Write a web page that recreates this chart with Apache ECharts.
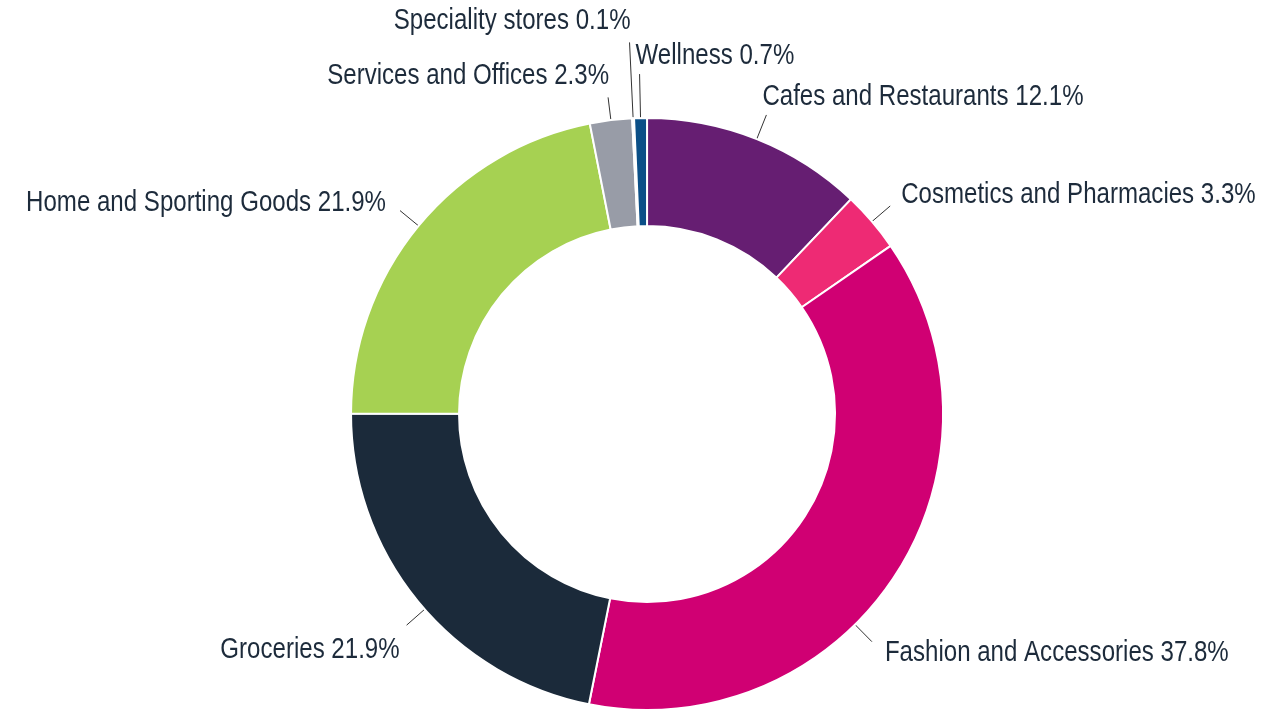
<!DOCTYPE html>
<html>
<head>
<meta charset="utf-8">
<script src="https://cdn.jsdelivr.net/npm/echarts@6/dist/echarts.min.js"></script>
<style>
html,body{margin:0;padding:0;background:#fff;}
#chart{width:1280px;height:720px;}
</style>
</head>
<body>
<div id="chart"></div>
<script>
const categories = ['Cafes and Restaurants','Cosmetics and Pharmacies','Fashion and Accessories','Groceries','Home and Sporting Goods','Services and Offices','Speciality stores','Wellness'];
const shares = [12.1, 3.3, 37.8, 21.9, 21.9, 2.3, 0.1, 0.7];
const colors = ['#661e72','#ee2a74','#d00073','#1b2a3a','#a6d152','#989ca7','#6f97c4','#0b4f87'];
// leader line lengths (px) and label anchor angle shifts (deg) – styling only
const leaderLengths = [26, 24, 24, 24, 24, 23, 76, 44];
const anchorShift = [0, 0, 12, -2, 0, 0, 0, 0];

const CENTER = ['50.55%', '57.5%'];
const R_IN = 188, R_OUT = 296;
const TEXT_SCALE_X = 0.83;

const chart = echarts.init(document.getElementById('chart'), null, {renderer: 'canvas'});

function pct(v, total) { return parseFloat(v) / 100 * total; }

const option = {
  backgroundColor: '#ffffff',
  animation: false,
  series: [{
    type: 'pie',
    center: CENTER,
    radius: [R_IN, R_OUT],
    startAngle: 90,
    clockwise: true,
    avoidLabelOverlap: false,
    itemStyle: {borderColor: '#ffffff', borderWidth: 2},
    label: {
      show: true,
      position: 'outside',
      color: '#1d2b3b',
      fontSize: 29,
      fontFamily: "'Liberation Sans', Arial, sans-serif",
      formatter: p => p.name + ' ' + p.value + '%'
    },
    labelLine: {show: true, length: 24, length2: 0, lineStyle: {color: '#333333', width: 1}},
    emphasis: {disabled: true},
    labelLayout: function (params) {
      const pts = params.labelLinePoints;
      if (!pts) return {};
      const i = params.dataIndex;
      const cx = pct(CENTER[0], chart.getWidth());
      const cy = pct(CENTER[1], chart.getHeight());
      let th = Math.atan2(pts[0][0] - cx, cy - pts[0][1]);
      th += anchorShift[i] * Math.PI / 180;
      const nx = Math.sin(th), ny = -Math.cos(th);
      const r2 = R_OUT + leaderLengths[i];
      const s = [cx + R_OUT * nx, cy + R_OUT * ny];
      const e = [cx + r2 * nx, cy + r2 * ny];
      const left = nx > -0.03;
      let out, dy;
      if (ny < -0.85) { out = left ? -4 : -1; dy = left ? -18 : -21; }
      else if (ny <= 0) { out = left ? 11 : 14; dy = left ? -11 : -8; }
      else { out = left ? 13 : 7; dy = left ? 11 : 25; }
      return {
        x: e[0] + (left ? out : -out),
        y: e[1] + dy,
        align: left ? 'left' : 'right',
        verticalAlign: 'middle',
        labelLinePoints: [s, e, e]
      };
    },
    data: categories.map((c, i) => ({name: c, value: shares[i], itemStyle: {color: colors[i]}, labelLine: {length: leaderLengths[i]}}))
  }]
};
chart.setOption(option);

// condense label text horizontally (narrow typeface look), anchored at each label position
function condenseLabels() {
  const zr = chart.getZr();
  zr.storage.getRoots().forEach(root => {
    const visit = el => {
      const t = el.getTextContent && el.getTextContent();
      if (t && t.scaleX !== TEXT_SCALE_X) {
        t.scaleX = TEXT_SCALE_X;
        t.markRedraw();
      }
    };
    visit(root);
    if (root.traverse) root.traverse(visit);
  });
  zr.refresh();
}
condenseLabels();
chart.on('finished', condenseLabels);
setTimeout(condenseLabels, 30);
</script>
</body>
</html>
